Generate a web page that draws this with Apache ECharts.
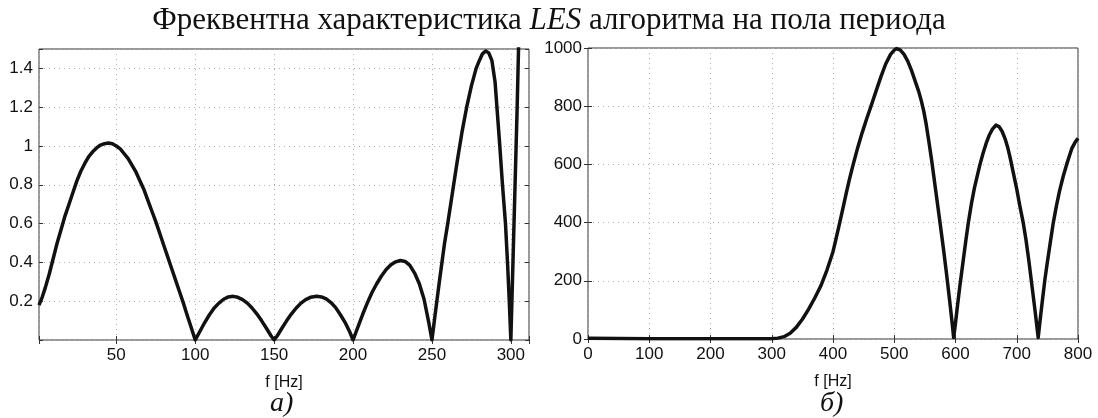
<!DOCTYPE html>
<html>
<head>
<meta charset="utf-8">
<script src="https://cdn.jsdelivr.net/npm/echarts@6/dist/echarts.min.js"></script>
<style>
html,body{margin:0;padding:0;background:#fff;}
#c{width:1098px;height:418px;}
</style>
</head>
<body>
<div id="c"></div>
<script>
// ---- Data ----
const titleText = ['Фреквентна характеристика ', 'LES', ' алгоритма на пола периода'];
const xNameA = 'f [Hz]';
const xNameB = 'f [Hz]';
const captionA = 'а)';
const captionB = 'б)';

// Panel a): magnitude vs frequency (Hz)
const freqA = [1, 3, 5, 7.5, 10, 12.5, 15, 17.5, 20, 22.5, 25, 27.5, 30, 32.5, 35, 37.5, 40, 42.5, 45, 47.5, 50, 52.5, 55, 57.5, 60, 62.5, 65, 67.5, 70, 72.5, 75, 77.5, 80, 82.5, 85, 87.5, 90, 92.5, 95, 97.5, 100,
  103, 106, 109, 112, 115, 118, 121, 124, 127, 130, 133, 136, 139, 142, 145, 148, 150,
  152, 155, 158, 161, 164, 167, 170, 173, 177, 180, 183, 186, 189, 192, 195, 198, 200,
  203, 206, 209, 212, 215, 218, 221, 224, 227, 230, 233, 236, 239, 242, 245, 248, 250,
  252, 255, 258, 260, 263, 266, 269, 272, 275, 278, 280, 282, 284, 286, 288, 290, 291, 293, 294.7, 296.6, 298, 299, 300,
  301, 302, 303, 304, 305, 306];
const magA = [0.18, 0.22, 0.27, 0.34, 0.42, 0.50, 0.57, 0.64, 0.70, 0.76, 0.82, 0.87, 0.91, 0.945, 0.97, 0.99, 1.005, 1.012, 1.015, 1.012, 1.0, 0.985, 0.96, 0.935, 0.90, 0.865, 0.82, 0.775, 0.72, 0.665, 0.61, 0.55, 0.49, 0.43, 0.37, 0.31, 0.25, 0.19, 0.125, 0.063, 0.0,
  0.045, 0.09, 0.13, 0.165, 0.19, 0.21, 0.222, 0.225, 0.22, 0.208, 0.19, 0.165, 0.135, 0.1, 0.062, 0.022, 0.0,
  0.022, 0.062, 0.1, 0.135, 0.165, 0.19, 0.208, 0.22, 0.225, 0.222, 0.212, 0.193, 0.167, 0.13, 0.09, 0.04, 0.0,
  0.065, 0.13, 0.19, 0.245, 0.29, 0.33, 0.363, 0.388, 0.403, 0.41, 0.405, 0.385, 0.345, 0.29, 0.21, 0.09, 0.0,
  0.13, 0.32, 0.50, 0.60, 0.76, 0.92, 1.07, 1.20, 1.31, 1.40, 1.44, 1.475, 1.49, 1.48, 1.44, 1.33, 1.22, 1.0, 0.8, 0.6, 0.38, 0.2, 0.0,
  0.3, 0.6, 0.9, 1.2, 1.55, 1.9];

// Panel б): magnitude vs frequency (Hz)
const freqB = [0, 50, 100, 150, 200, 250, 300, 310, 320, 330, 340, 350, 360, 370, 380, 390, 400, 405, 411, 416, 422, 427, 433, 440, 447, 455, 462, 470, 478, 486, 494, 500, 504,
  510, 516, 522, 528, 534, 540, 544, 548, 552, 557, 561, 568, 574.7, 580, 585, 590, 594, 597,
  600, 603, 607, 612, 617, 621, 626, 631, 636, 640, 645, 650, 655, 660, 666, 671, 676, 681, 685, 689, 694, 700, 705, 710.7, 715, 720, 725, 730, 735,
  738, 742, 746, 750, 755, 759.7, 765, 770, 776, 781.5, 786, 790, 795, 800];
const magB = [3, 2, 1, 1, 1, 1, 1, 3, 8, 20, 40, 68, 102, 140, 182, 236, 300, 345, 400, 447, 505, 550, 600, 655, 705, 757, 800, 850, 900, 945, 978, 993, 998,
  993, 978, 955, 924, 887, 850, 820, 785, 740, 672, 615, 505, 400, 315, 230, 140, 65, 5,
  55, 110, 180, 260, 340, 400, 465, 520, 565, 600, 638, 672, 700, 720, 735, 730, 714, 688, 660, 625, 575, 515, 458, 398, 342, 265, 180, 95, 5,
  62, 135, 205, 265, 335, 400, 460, 510, 560, 600, 630, 655, 675, 690];

const ticksA_x = [50, 100, 150, 200, 250, 300];

// ---- Chart ----
const chart = echarts.init(document.getElementById('c'), null, {renderer: 'canvas'});
const sans = 'Liberation Sans, Arial, Helvetica, sans-serif';
const serif = 'Liberation Serif, Times New Roman, serif';
const gridCol = '#b0b0b0';
const axCol = '#333';

function pairs(xs, ys) { return xs.map((x, i) => [x, ys[i]]); }

const lblStyle = {color: '#111', fontFamily: sans, fontSize: 17};
const split = {show: true, lineStyle: {color: gridCol, type: [1, 4], width: 1}};
const tick = {show: true, inside: true, length: 4, lineStyle: {color: axCol}};

function mainX(gi, min, max, name, opts) {
  return Object.assign({
    type: 'value', gridIndex: gi, min: min, max: max, position: 'bottom',
    axisLine: {show: false}, axisTick: tick, splitLine: split,
    axisLabel: Object.assign({margin: 7, formatter: v => String(v)}, lblStyle),
    name: name, nameLocation: 'middle', nameGap: 35,
    nameTextStyle: {color: '#111', fontFamily: sans, fontSize: 16}
  }, opts);
}
function mainY(gi, min, max, opts) {
  return Object.assign({
    type: 'value', gridIndex: gi, min: min, max: max, position: 'left',
    axisLine: {show: false}, axisTick: tick, splitLine: split,
    axisLabel: Object.assign({margin: 6, formatter: v => String(v)}, lblStyle)
  }, opts);
}
function sideAxis(gi, min, max, pos, opts) {
  return Object.assign({
    type: 'value', gridIndex: gi, min: min, max: max, position: pos,
    axisLine: {show: false}, axisTick: tick, splitLine: {show: false},
    axisLabel: {show: false}
  }, opts);
}

const option = {
  backgroundColor: '#fff',
  animation: false,
  title: {
    text: '{n|' + titleText[0] + '}{i|' + titleText[1] + '}{n|' + titleText[2] + '}',
    left: 'center', top: 0,
    textStyle: {
      rich: {
        n: {fontFamily: serif, fontSize: 31, fontWeight: 'normal', color: '#111'},
        i: {fontFamily: serif, fontSize: 31, fontWeight: 'normal', fontStyle: 'italic', color: '#111'}
      }
    }
  },
  graphic: [
    {type: 'text', left: 270, top: 390, style: {text: captionA, font: 'italic 28px ' + serif, fill: '#111'}},
    {type: 'text', left: 820, top: 390, style: {text: captionB, font: 'italic 28px ' + serif, fill: '#111'}}
  ],
  grid: [
    {left: 39, top: 49, width: 490, height: 291, show: true, borderColor: axCol, borderWidth: 1, backgroundColor: 'transparent'},
    {left: 588, top: 48, width: 490, height: 291, show: true, borderColor: axCol, borderWidth: 1, backgroundColor: 'transparent'}
  ],
  xAxis: [
    mainX(0, 1, 311.5, xNameA, {
      splitNumber: 6,
      axisLabel: Object.assign({margin: 7, formatter: v => (Math.abs(v - Math.round(v)) < 1e-6 && ticksA_x.indexOf(Math.round(v)) >= 0) ? String(Math.round(v)) : ''}, lblStyle)
    }),
    mainX(1, 0, 800, xNameB, {interval: 100}),
    sideAxis(0, 1, 311.5, 'top', {splitNumber: 6}),
    sideAxis(1, 0, 800, 'top', {interval: 100})
  ],
  yAxis: [
    mainY(0, 0, 1.5, {
      interval: 0.2,
      axisLabel: Object.assign({margin: 6, formatter: v => (v > 0.1 && v < 1.45) ? String(+v.toFixed(1)) : ''}, lblStyle)
    }),
    mainY(1, 0, 1000, {interval: 200}),
    sideAxis(0, 0, 1.5, 'right', {interval: 0.2}),
    sideAxis(1, 0, 1000, 'right', {interval: 200})
  ],
  series: [
    {type: 'line', xAxisIndex: 0, yAxisIndex: 0, data: pairs(freqA, magA), showSymbol: false, clip: true,
     lineStyle: {color: '#111', width: 3.5, join: 'round'}, z: 5},
    {type: 'line', xAxisIndex: 1, yAxisIndex: 1, data: pairs(freqB, magB), showSymbol: false, clip: true,
     lineStyle: {color: '#111', width: 3.5, join: 'round'}, z: 5}
  ]
};
chart.setOption(option);
</script>
</body>
</html>
